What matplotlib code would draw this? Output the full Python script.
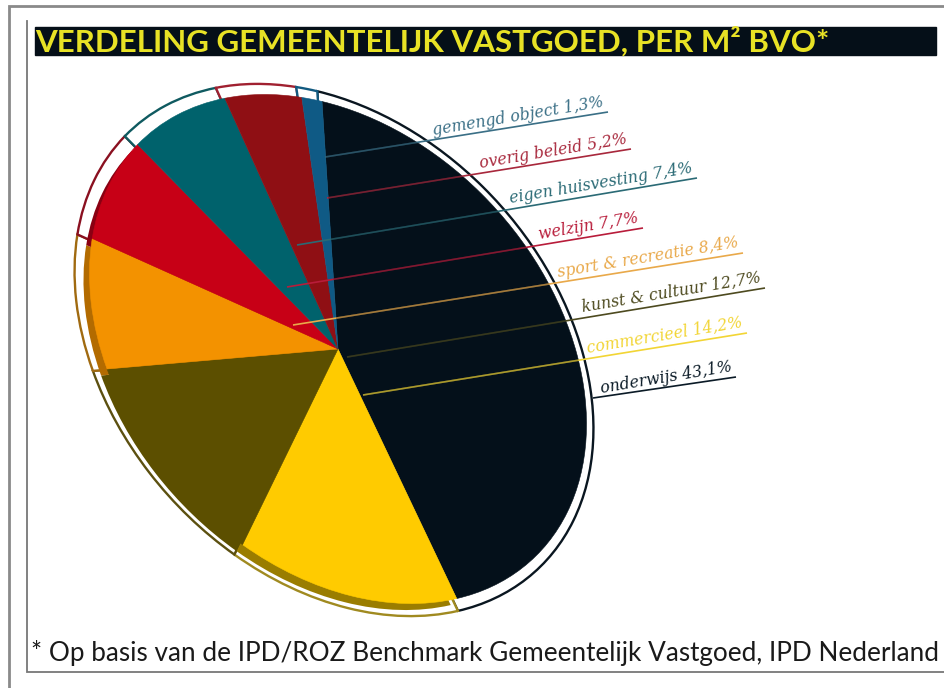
# plot.py - verdeling gemeentelijk vastgoed, tilted pie
import matplotlib
matplotlib.use('Agg')
import matplotlib.pyplot as plt
from matplotlib.patches import Rectangle
from matplotlib.transforms import Affine2D

# data
categories = ['onderwijs', 'commercieel', 'kunst & cultuur', 'sport & recreatie',
              'welzijn', 'eigen huisvesting', 'overig beleid', 'gemengd object']
values = [43.1, 14.2, 12.7, 8.4, 7.7, 7.4, 5.2, 1.3]
value_labels = ['43,1%', '14,2%', '12,7%', '8,4%', '7,7%', '7,4%', '5,2%', '1,3%']

face_colors = ['#04101a', '#ffcb00', '#5c4f00', '#f39200', '#c70016', '#00626c', '#8f0f14', '#0f5a85']
shadow_colors = ['none', '#9a7d00', '#5c4f00', '#b36b00', '#8a0012', 'none', 'none', 'none']
ring_colors = ['#0a1620', '#a08a20', '#5c5010', '#a06a10', '#8a1020', '#0f5a60', '#a02030', '#125a80']
label_colors = ['#0a1a26', '#f2d535', '#4d4a1f', '#e9a94a', '#b81c3a', '#2a6a75', '#a8283c', '#3a6f86']

# leader lines, start and end in pixels
line_start = [(593, 398), (363, 395), (347, 357), (293, 325), (287, 287), (297, 245), (327, 198), (325, 157)]
line_end = [(736, 377), (747, 333), (765, 288), (743, 253), (643, 228), (697, 178), (631, 149), (608, 112)]

fig = plt.figure(figsize=(9.44, 6.88), dpi=100)
ax = fig.add_axes([0, 0, 1, 1])


def tilt(cx, cy, sx=1.0, sy=1.0):
    # unit circle to the slanted ellipse, in pixels
    return Affine2D.from_values(248 * sx, 60 * sy, -16 * sx, -250 * sy, cx, cy) + ax.transData


def draw_pie(colors, trans, edges=None, lw=0):
    wedges, _ = ax.pie(values, startangle=90, counterclock=False, colors=colors, frame=True)
    for i, w in enumerate(wedges):
        w.set_transform(trans)
        if edges:
            w.set_edgecolor(edges[i])
            w.set_linewidth(lw)
    return wedges


draw_pie(['white'] * len(values), tilt(334, 350, 1.044, 1.035), edges=ring_colors, lw=1.7)
draw_pie(shadow_colors, tilt(332, 355.5, 1.0, 0.99))
faces = draw_pie(face_colors, tilt(338, 349, 1.0, 0.99), edges=face_colors, lw=0.4)

ax.set_aspect('auto')
ax.set_xlim(0, 944)
ax.set_ylim(688, 0)
ax.axis('off')

# leader lines and labels, dimmer where they cross the black slice
for i, cat in enumerate(categories):
    x0, y0 = line_start[i]
    x1, y1 = line_end[i]
    ax.plot([x0, x1], [y0, y1], color=label_colors[i], lw=1.2, solid_capstyle='butt', zorder=5)
    dim, = ax.plot([x0, x1], [y0, y1], color='#04101a', alpha=0.3, lw=1.3, solid_capstyle='butt', zorder=5.5)
    dim.set_clip_path(faces[0])
    ax.text(x1 - 3, y1 - 2, cat + ' ' + value_labels[i], color=label_colors[i], fontsize=11.3,
            family='DejaVu Serif', style='italic', rotation=9.5, rotation_mode='anchor',
            ha='right', va='bottom', zorder=6)

# title bar
ax.add_patch(Rectangle((35, 27), 901, 28, color='#050f18', zorder=4))
ax.text(35, 51.5, 'VERDELING GEMEENTELIJK VASTGOED, PER M² BVO*', color='#e8e225', fontsize=22.5,
        family='Lato', weight='bold', va='baseline', ha='left', zorder=5)

# footnote
ax.text(31, 661, '* Op basis van de IPD/ROZ Benchmark Gemeentelijk Vastgoed, IPD Nederland',
        color='#1a1a1a', fontsize=18.8, family='Lato', va='baseline', ha='left', clip_on=True)

# page frame
ax.plot([9, 9, 944], [688, 6, 6], color='#8a8a8a', lw=2, solid_joinstyle='miter')
ax.plot([27, 27, 944], [21, 672, 672], color='#777777', lw=1.3, solid_joinstyle='miter')

fig.savefig('out.png', dpi=100)
